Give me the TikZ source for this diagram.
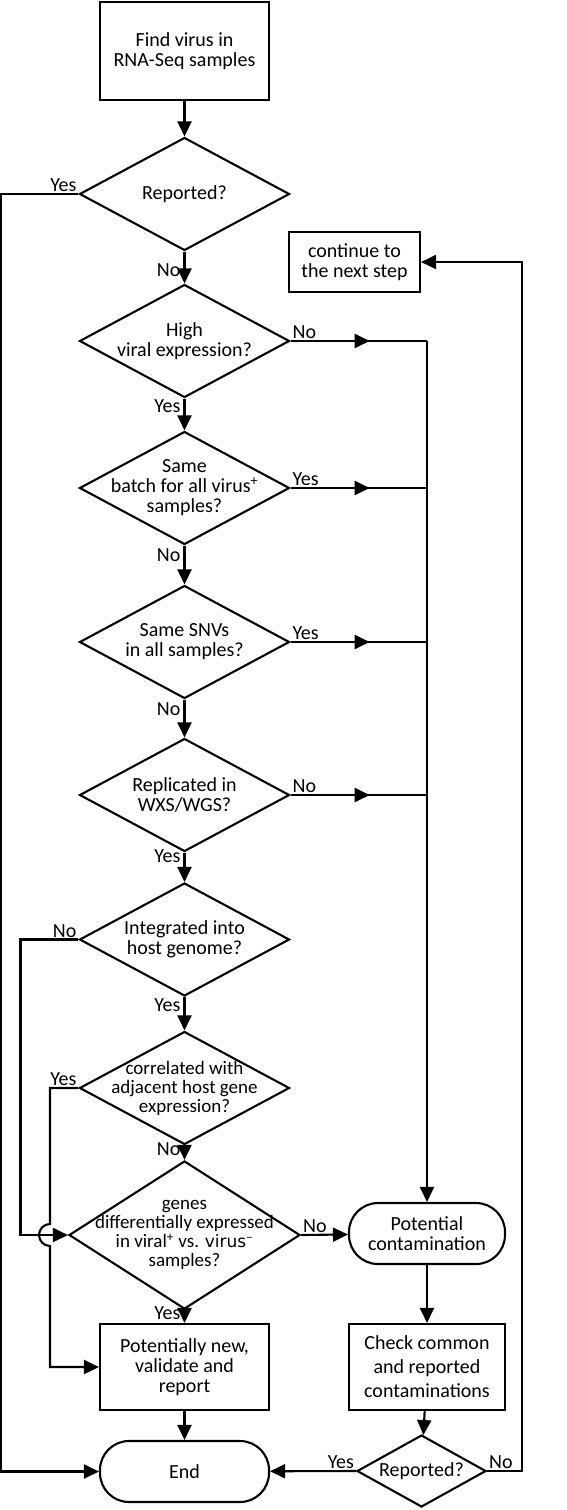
\documentclass[tikz,border=0pt]{standalone}
\usepackage{fontspec}
\setmainfont{Carlito}
\newfontfamily\wideface{DejaVu Sans}
\usetikzlibrary{shapes.geometric,arrows.meta,decorations.markings}
\tikzset{
  line/.style={line width=2.1pt},
  arr/.style={line, -{Triangle[length=15pt,width=14pt]}},
  box/.style={draw, line width=2.1pt, align=center, inner sep=2pt,
    font=\fontsize{20}{20}\selectfont},
  term/.style={box, rounded corners=29pt},
  decision/.style={diamond, draw, line width=2.1pt, align=center,
    inner xsep=-30pt, inner ysep=-20pt, minimum width=210pt, minimum height=113pt,
    font=\fontsize{20}{20}\selectfont},
  lbl/.style={font=\fontsize{20}{20}\selectfont, inner sep=1pt},
  midarr/.style={line, postaction={decorate},
    decoration={markings, mark=at position #1 with {\arrow{Triangle[length=15pt,width=14pt]}}}}
}
\begin{document}
\begin{tikzpicture}[x=1pt,y=-1pt]
    \useasboundingbox (0,0) rectangle (566,1510);
    \node[box, minimum width=169pt, minimum height=98pt] (find) at (184.5,51) {Find virus in\\RNA-Seq samples};
    \node[decision] (d1) at (184.5,194) {Reported?};
    \node[box, minimum width=131pt, minimum height=60pt] (cont) at (354.5,262) {continue to\\the next step};
    \node[decision] (d2) at (184.5,341) {High\\viral expression?};
    \node[decision] (d3) at (184.5,488) {Same\\batch for all virus\textsuperscript{+}\\samples?};
    \node[decision] (d4) at (184.5,642) {Same SNVs\\in all samples?};
    \node[decision] (d5) at (184.5,795) {Replicated in\\WXS/WGS?};
    \node[decision] (d6) at (184.5,939.5) {Integrated into\\host genome?};
    \node[decision, font=\fontsize{19}{19}\selectfont] (d7) at (184.5,1088) {correlated with\\adjacent host gene\\expression?};
    \node[decision, minimum width=231pt, minimum height=114pt, font=\fontsize{19}{19}\selectfont] (d8) at (184.5,1235)
        {genes\\differentially expressed\\in viral\textsuperscript{+} vs. {\wideface\fontsize{17}{19}\selectfont virus}\textsuperscript{–}\\samples?};
    \node[term, minimum width=156pt, minimum height=61pt] (pc) at (427,1233.5) {Potential\\contamination};
    \node[box, minimum width=169pt, minimum height=86pt] (pn) at (184.5,1367) {Potentially new,\\validate and\\report};
    \node[box, minimum width=156pt, minimum height=86pt, font=\fontsize{20}{24}\selectfont] (check) at (427,1367) {Check common\\and reported\\contaminations};
    \node[term, minimum width=169pt, minimum height=61pt] (end) at (184.5,1471.5) {End};
    \node[decision, minimum width=129pt, minimum height=72pt] (rep) at (421.5,1471) {Reported?};
    \coordinate (hop) at (50,1235);

    \draw[arr] (find) -- (d1);
    \draw[arr] (d1) -- node[lbl, pos=0.57, left=2pt] {No} (d2);
    \draw[arr] (d2) -- node[lbl, pos=0.25, left=2pt] {Yes} (d3);
    \draw[arr] (d3) -- node[lbl, pos=0.25, left=2pt] {No} (d4);
    \draw[arr] (d4) -- node[lbl, pos=0.25, left=2pt] {No} (d5);
    \draw[arr] (d5) -- node[lbl, pos=0.12, left=2pt] {Yes} (d6);
    \draw[arr] (d6) -- node[lbl, pos=0.25, left=2pt] {Yes} (d7);
    \draw[arr] (d7) -- node[lbl, pos=0.23, left=2pt] {No} (d8);
    \draw[arr] (d8) -- node[lbl, pos=0.25, left=2pt] {Yes} (pn);

    \foreach \d/\t in {d2/No,d3/Yes,d4/Yes,d5/No}
    \draw[midarr=0.58] (\d.east) node[lbl, above right] {\t} -- (\d.east -| pc);
    \draw[arr] (d2.east -| pc) -- (pc);

    \draw[arr] (d1.west) node[lbl, above left] {Yes} -- ++(-77.5,0) |- (end);
    \draw[arr] (d6.west) node[lbl, above left] {No} -- ++(-58,0) |- (d8);
    \draw[arr] (d7.west) node[lbl, above left] {Yes} -| ([yshift=11pt]hop)
        arc[start angle=270, end angle=90, radius=11] |- (pn);
    \draw[arr] (d8.east) node[lbl, above right] {No} -- (pc);

    \draw[arr] (pn) -- (end);
    \draw[arr] (pc) -- (check);
    \draw[arr] (check) -- (rep);
    \draw[arr] (rep.west) node[lbl, above left] {Yes} -- (end);
    \draw[arr] (rep.east) node[lbl, above right] {No} -- ++(35,0) |- (cont);
\end{tikzpicture}
\end{document}
